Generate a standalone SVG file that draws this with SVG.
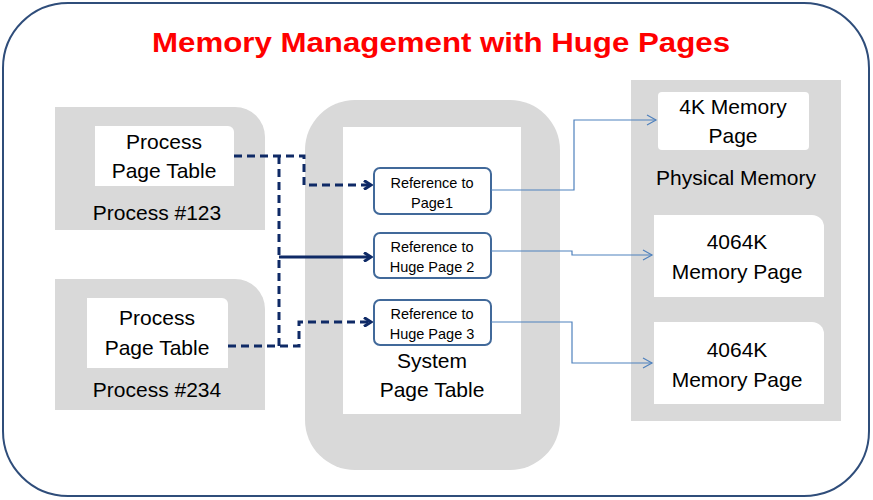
<svg xmlns="http://www.w3.org/2000/svg" width="873" height="500" viewBox="0 0 873 500">
<style>
.g{fill:#d9d9d9}
.w{fill:#fff}
.t{font-family:"Liberation Sans",Arial,sans-serif;font-size:21px;fill:#000;text-anchor:middle}
.s{font-family:"Liberation Sans",Arial,sans-serif;font-size:14.5px;fill:#000;text-anchor:middle}
.ref{fill:#fff;stroke:#41699a;stroke-width:2}
.dk{fill:none;stroke:#0f2a66;stroke-width:3}
.da{stroke-dasharray:8,5}
.bl{fill:none;stroke:#4f81bd;stroke-width:1.2}
</style>
<defs>
<marker id="ad" markerWidth="10" markerHeight="10" refX="8" refY="5" orient="auto" markerUnits="userSpaceOnUse"><path d="M1,0.5 L8,5 L1,9.5" fill="none" stroke="#0f2a66" stroke-width="3"/></marker>
<marker id="ab" markerWidth="12" markerHeight="12" refX="10" refY="6" orient="auto" markerUnits="userSpaceOnUse"><path d="M1,1 L10,6 L1,11" fill="none" stroke="#4f81bd" stroke-width="1.2"/></marker>
</defs>
<rect x="0" y="0" width="873" height="500" fill="#fff"/>
<rect x="3" y="3" width="866" height="493" rx="65" fill="#fff" stroke="#2f4d7a" stroke-width="2"/>
<text x="441" y="52" font-family="Liberation Sans,Arial,sans-serif" font-size="28" font-weight="bold" fill="#ff0000" text-anchor="middle" textLength="578" lengthAdjust="spacingAndGlyphs">Memory Management with Huge Pages</text>

<g id="process123">
<path class="g" d="M55,107 H235 A30,30 0 0 1 265,137 V230 H55 Z"/>
<path class="w" d="M95,126 H228 A6,6 0 0 1 234,132 V186 H95 Z"/>
<text class="t" x="164" y="149">Process</text>
<text class="t" x="164" y="178">Page Table</text>
<text class="t" x="157" y="220">Process #123</text>
</g>
<g id="process234">
<path class="g" d="M55,279 H235 A30,30 0 0 1 265,309 V410 H55 Z"/>
<path class="w" d="M87,298 H222 A6,6 0 0 1 228,304 V368 H87 Z"/>
<text class="t" x="157" y="325">Process</text>
<text class="t" x="157" y="355">Page Table</text>
<text class="t" x="157" y="397">Process #234</text>
</g>
<g id="system">
<rect class="g" x="305" y="100" width="255" height="370" rx="50"/>
<rect class="w" x="343" y="127" width="178" height="287"/>
<text class="t" x="432" y="368">System</text>
<text class="t" x="432" y="397">Page Table</text>
</g>
<g id="ref1"><rect class="ref" x="374" y="168" width="117" height="46" rx="6"/>
<text class="s" x="432" y="188">Reference to</text><text class="s" x="432" y="208">Page1</text></g>
<g id="ref2"><rect class="ref" x="374" y="233" width="117" height="45" rx="6"/>
<text class="s" x="432" y="252">Reference to</text><text class="s" x="432" y="272">Huge Page 2</text></g>
<g id="ref3"><rect class="ref" x="374" y="300" width="117" height="45" rx="6"/>
<text class="s" x="432" y="319">Reference to</text><text class="s" x="432" y="339">Huge Page 3</text></g>
<g id="physical">
<rect class="g" x="631" y="80" width="210" height="341"/>
<rect class="w" x="658" y="92" width="151" height="58" rx="4"/>
<text class="t" x="733" y="114">4K Memory</text>
<text class="t" x="733" y="143">Page</text>
<text class="t" x="736" y="185">Physical Memory</text>
<path class="w" d="M654,215 H812 A12,12 0 0 1 824,227 V297 H654 Z"/>
<text class="t" x="737" y="249">4064K</text>
<text class="t" x="737" y="279">Memory Page</text>
<path class="w" d="M654,322 H812 A12,12 0 0 1 824,334 V404 H654 Z"/>
<text class="t" x="737" y="357">4064K</text>
<text class="t" x="737" y="387">Memory Page</text>
</g>
<g id="connectors">
<path class="dk da" d="M234,156 H304 V185 H371" marker-end="url(#ad)"/>
<path class="dk da" d="M279,156 V346"/>
<path class="dk" d="M279,257 H371" marker-end="url(#ad)"/>
<path class="dk da" d="M228,346 H299 V322 H371" marker-end="url(#ad)"/>
<path class="bl" d="M491,190 H574 V120 H656" marker-end="url(#ab)"/>
<path class="bl" d="M491,251 H572 V255 H652" marker-end="url(#ab)"/>
<path class="bl" d="M491,322 H572 V363 H652" marker-end="url(#ab)"/>
</g>
</svg>
